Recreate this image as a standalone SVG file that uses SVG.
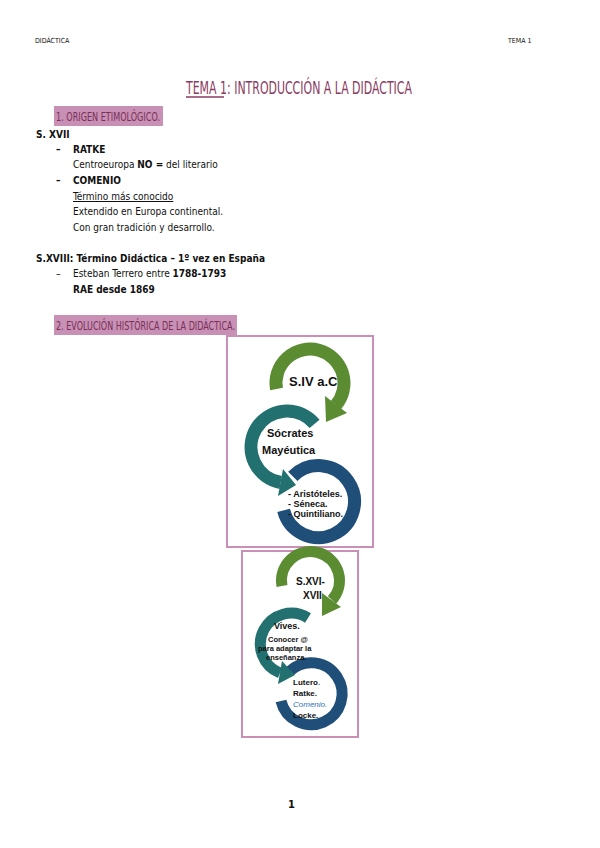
<svg xmlns="http://www.w3.org/2000/svg" width="600" height="848" viewBox="0 0 600 848">
<style>
.t{font-family:"DejaVu Sans Condensed","Liberation Sans",sans-serif;fill:#111}
.s{font-size:10px}
.b{font-weight:bold}
.h{font-family:"DejaVu Sans Condensed","Liberation Sans",sans-serif;font-size:12px;fill:#7a2f57}
.hb{fill:#c790b4}
.box{fill:#fff;stroke:#c98fb6;stroke-width:2}
.g{fill:none;stroke:#5b8c32}.gf{fill:#5b8c32}
.c{fill:none;stroke:#22706f}.cf{fill:#22706f}
.n{fill:none;stroke:#1f4e79}
.w{font-family:"Liberation Sans",sans-serif;font-weight:bold;fill:#111}
</style>
<rect width="600" height="848" fill="#fff"/>
<text class="t" x="35" y="43" font-size="7">DIDÁCTICA</text>
<text class="t" x="508" y="43" font-size="7">TEMA 1</text>
<text x="186" y="94" font-family="DejaVu Sans Condensed,sans-serif" font-size="18" fill="#8b3a62" textLength="226" lengthAdjust="spacingAndGlyphs">TEMA 1: INTRODUCCIÓN A LA DIDÁCTICA</text>
<line x1="186" y1="97" x2="224" y2="97" stroke="#8b3a62" stroke-width="1.5"/>
<rect class="hb" x="54" y="106" width="109" height="20"/>
<text class="h" x="56" y="121" textLength="104" lengthAdjust="spacingAndGlyphs">1.   ORIGEN ETIMOLÓGICO.</text>
<text class="t s b" x="36" y="138">S. XVII</text>
<text class="t s b" x="56" y="153">–</text><text class="t s b" x="73" y="153">RATKE</text>
<text class="t s" x="73" y="168">Centroeuropa   <tspan font-weight="bold">NO =</tspan>  del literario</text>
<text class="t s b" x="56" y="184">–</text><text class="t s b" x="73" y="184">COMENIO</text>
<text class="t s" x="73" y="200" text-decoration="underline">Término más conocido</text>
<text class="t s" x="73" y="215">Extendido en Europa continental.</text>
<text class="t s" x="73" y="231">Con gran tradición y desarrollo.</text>
<text class="t s b" x="36" y="262">S.XVIII: Término Didáctica – 1º vez en España</text>
<text class="t s" x="56" y="277">–</text><text class="t s" x="73" y="277">Esteban Terrero entre <tspan font-weight="bold">1788-1793</tspan></text>
<text class="t s b" x="73" y="293">RAE desde 1869</text>
<rect class="hb" x="54" y="315" width="183" height="20"/>
<text class="h" x="56" y="330" textLength="179" lengthAdjust="spacingAndGlyphs">2.   EVOLUCIÓN HISTÓRICA DE LA DIDÁCTICA.</text>

<g id="diagram1">
<rect class="box" x="227" y="336" width="146" height="211"/>
<g id="n1-3"><path class="n" stroke-width="13" d="M292.8 476.4 A36 36 0 1 1 283.6 510.4"/>
<text class="w" font-family="Liberation Serif,serif" font-size="9" x="288" y="497">- Aristóteles.</text>
<text class="w" font-family="Liberation Serif,serif" font-size="9" x="288" y="507">- Séneca.</text>
<text class="w" font-family="Liberation Serif,serif" font-size="9" x="288" y="517">- Quintiliano.</text></g>
<g id="n1-2"><path class="c" stroke-width="13" d="M314.6 423.9 A36 36 0 1 0 280.7 482.5"/>
<polygon class="cf" points="283,469 278,496 296,485"/>
<text class="w" font-size="11" x="267" y="437">Sócrates</text>
<text class="w" font-size="11" x="262" y="454">Mayéutica</text></g>
<g id="n1-1"><path class="g" stroke-width="13" d="M276.5 389 A34 34 0 1 1 336 405"/>
<polygon class="gf" points="347,413 325,396 326,422"/>
<text class="w" font-size="13" x="289" y="386">S.IV a.C</text></g>
</g>

<g id="diagram2">
<rect class="box" x="242" y="551" width="116" height="186"/>
<g id="n2-3"><path class="n" stroke-width="11" d="M290 671 A31 31 0 1 1 281 701"/>
<text class="w" font-size="8" x="293" y="685">Lutero<tspan fill="#2e75b6">.</tspan></text>
<text class="w" font-size="8" x="293" y="696">Ratke.</text>
<text font-family="Liberation Sans,sans-serif" font-style="italic" font-size="8" fill="#2e75b6" x="293" y="707">Comenio.</text>
<text class="w" font-size="8" x="293" y="718">Locke.</text></g>
<g id="n2-2"><path class="c" stroke-width="11" d="M308 618 A31 31 0 1 0 280 673"/>
<polygon class="cf" points="282,661 278,684 295,675"/>
<text class="w" font-size="9" x="274" y="629">Vives.</text>
<text class="w" font-size="7.5" x="268" y="642">Conocer @</text>
<text class="w" font-size="7.5" x="258" y="651">para adaptar la</text>
<text class="w" font-size="7.5" x="266" y="660">enseñanza.</text></g>
<g id="n2-1"><path class="g" stroke-width="11" d="M282 586 A29 29 0 1 1 332 600"/>
<polygon class="gf" points="341,607 322,593 322,616"/>
<text class="w" font-size="10" x="296" y="585">S.XVI-</text>
<text class="w" font-size="10" x="303" y="599">XVII</text></g>
</g>
<text class="t" x="288" y="808" font-size="11" font-weight="bold">1</text>
</svg>
